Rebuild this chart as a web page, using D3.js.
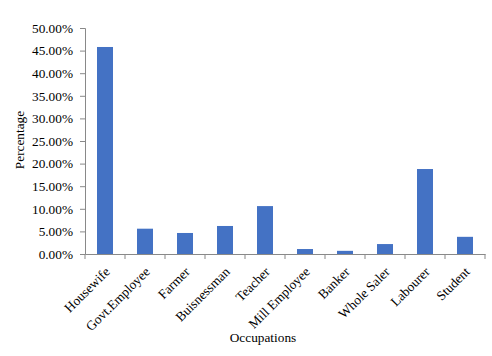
<!DOCTYPE html>
<html><head><meta charset="utf-8">
<script src="https://cdn.jsdelivr.net/npm/d3@7"></script>
<style>body{margin:0;background:#fff}svg{display:block}text{font-family:"Liberation Serif","Times New Roman",serif;fill:#000}</style>
</head><body><svg id="c" width="492" height="356"></svg>
<script>
const categories = ["Housewife","Govt.Employee","Farmer","Buisnessman","Teacher","Mill Employee","Banker","Whole Saler","Labourer","Student"];
const values = [0.458,0.056,0.0465,0.062,0.106,0.011,0.007,0.022,0.188,0.038];
const yTicks = [0,0.05,0.10,0.15,0.20,0.25,0.30,0.35,0.40,0.45,0.50];

const svg = d3.select("#c");
const x0 = 85, x1 = 485, yTop = 28, yBot = 254;
const x = d3.scaleBand().domain(categories).range([x0,x1]).paddingInner(0.6).paddingOuter(0.3);
const y = d3.scaleLinear().domain([0,0.5]).range([yBot,yTop]);
const axisColor = "#898989";
const fs = "13.3px";

// y axis
const ya = svg.append("g").attr("transform",`translate(${x0},0)`)
  .call(d3.axisLeft(y).tickValues(yTicks).tickSize(5).tickPadding(7).tickFormat(d=>(d*100).toFixed(2)+"%"));
ya.selectAll("path,line").attr("stroke",axisColor);
ya.selectAll("text").style("font-size",fs).style("font-family","Liberation Serif");

// bars
svg.append("g").selectAll("rect").data(categories).join("rect")
  .attr("x",d=>x(d)).attr("width",x.bandwidth())
  .attr("y",(d,i)=>y(values[i])).attr("height",(d,i)=>yBot-y(values[i]))
  .attr("fill","#4472c4");

// x axis
const xa = svg.append("g").attr("transform",`translate(0,${yBot})`)
  .call(d3.axisBottom(x).tickSize(0).tickFormat(""));
xa.select("path").attr("stroke",axisColor);
const step = (x1-x0)/categories.length;
xa.selectAll(".sep").data(d3.range(categories.length+1)).join("line")
  .attr("x1",i=>x0+i*step).attr("x2",i=>x0+i*step).attr("y1",0).attr("y2",5).attr("stroke",axisColor);
svg.append("g").selectAll("text").data(categories).join("text")
  .attr("transform",d=>`translate(${x(d)+x.bandwidth()/2-1},${yBot+12}) rotate(-45)`)
  .attr("text-anchor","end").attr("dy","0.7em")
  .style("font-size",fs).text(d=>d);

// titles
svg.append("text").attr("x",263).attr("y",342).attr("text-anchor","middle").style("font-size",fs).text("Occupations");
svg.append("text").attr("transform","translate(24,140) rotate(-90)").attr("text-anchor","middle").style("font-size",fs).text("Percentage");
</script></body></html>
